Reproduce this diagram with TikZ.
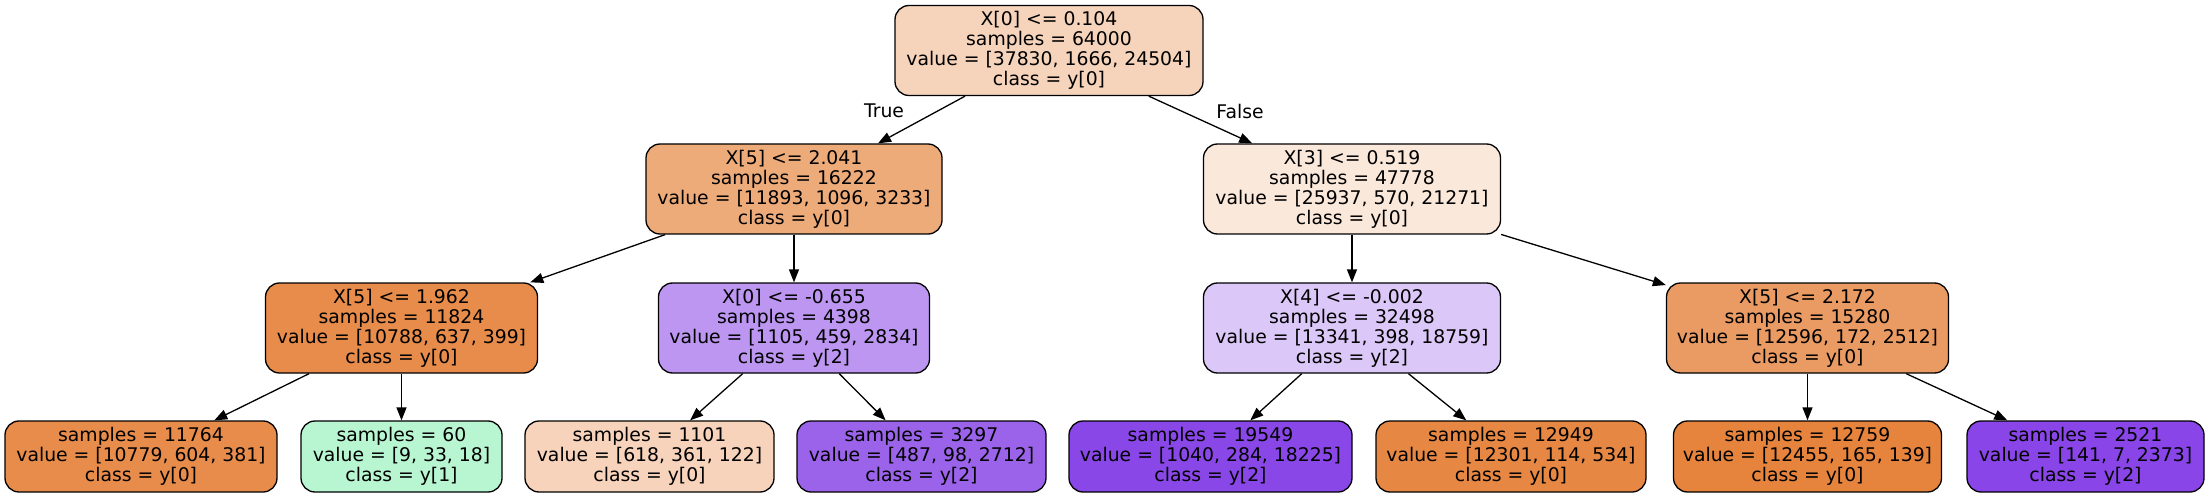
\documentclass[tikz,border=0pt]{standalone}
\usepackage{fontspec}
\setmainfont{DejaVu Sans}
\usetikzlibrary{arrows.meta}
\definecolor{cA}{RGB}{229,129,57}
\definecolor{cB}{RGB}{57,229,129}
\definecolor{cC}{RGB}{129,57,229}
\begin{document}
\begin{tikzpicture}[x=1pt,y=-1pt,
  tnode/.style={draw=black, line width=1.3pt, rounded corners=14pt, align=center,
    font=\fontsize{18.8}{20}\selectfont, inner sep=0pt, minimum height=90pt},
  leafbox/.style={tnode, minimum height=71pt},
  edgearrow/.style={line width=1.3pt, -{Triangle[length=13pt,width=10pt]}},
  lbl/.style={font=\fontsize{18.8}{20}\selectfont, inner sep=0pt}]
\useasboundingbox (0,0) rectangle (2209,497);
% level 0
\node[tnode, fill=cA!34, minimum width=308pt] (root) at (1049,50.5)
  {X[0] <= 0.104\\samples = 64000\\value = [37830, 1666, 24504]\\class = y[0]};
% level 1
\node[tnode, fill=cA!67, minimum width=296pt] (l1a) at (794,189)
  {X[5] <= 2.041\\samples = 16222\\value = [11893, 1096, 3233]\\class = y[0]};
\node[tnode, fill=cA!18, minimum width=297pt] (l1b) at (1352,189)
  {X[3] <= 0.519\\samples = 47778\\value = [25937, 570, 21271]\\class = y[0]};
% level 2
\node[tnode, fill=cA!91, minimum width=272pt] (l2a) at (401.5,328)
  {X[5] <= 1.962\\samples = 11824\\value = [10788, 637, 399]\\class = y[0]};
\node[tnode, fill=cC!53, minimum width=271pt] (l2b) at (794,328)
  {X[0] <= -0.655\\samples = 4398\\value = [1105, 459, 2834]\\class = y[2]};
\node[tnode, fill=cC!28, minimum width=297pt] (l2c) at (1352,328)
  {X[4] <= -0.002\\samples = 32498\\value = [13341, 398, 18759]\\class = y[2]};
\node[tnode, fill=cA!79, minimum width=282pt] (l2d) at (1807.5,328)
  {X[5] <= 2.172\\samples = 15280\\value = [12596, 172, 2512]\\class = y[0]};
% leaves
\node[leafbox, fill=cA!91, minimum width=272pt] (lf1) at (141,456.5)
  {samples = 11764\\value = [10779, 604, 381]\\class = y[0]};
\node[leafbox, fill=cB!36, minimum width=201pt] (lf2) at (401.5,456.5)
  {samples = 60\\value = [9, 33, 18]\\class = y[1]};
\node[leafbox, fill=cA!35, minimum width=249pt] (lf3) at (649.5,456.5)
  {samples = 1101\\value = [618, 361, 122]\\class = y[0]};
\node[leafbox, fill=cC!79, minimum width=249pt] (lf4) at (921.5,456.5)
  {samples = 3297\\value = [487, 98, 2712]\\class = y[2]};
\node[leafbox, fill=cC!93, minimum width=283pt] (lf5) at (1210.5,456.5)
  {samples = 19549\\value = [1040, 284, 18225]\\class = y[2]};
\node[leafbox, fill=cA!95, minimum width=270pt] (lf6) at (1511,456.5)
  {samples = 12949\\value = [12301, 114, 534]\\class = y[0]};
\node[leafbox, fill=cA!98, minimum width=268pt] (lf7) at (1807.5,456.5)
  {samples = 12759\\value = [12455, 165, 139]\\class = y[0]};
\node[leafbox, fill=cC!94, minimum width=237pt] (lf8) at (2085.5,456.5)
  {samples = 2521\\value = [141, 7, 2373]\\class = y[2]};
% edges
\draw[edgearrow] (root) -- (l1a);
\draw[edgearrow] (root) -- (l1b);
\draw[edgearrow] (l1a) -- (l2a);
\draw[edgearrow] (l1a) -- (l2b);
\draw[edgearrow] (l1b) -- (l2c);
\draw[edgearrow] (l1b) -- (l2d);
\draw[edgearrow] (l2a) -- (lf1);
\draw[edgearrow] (l2a) -- (lf2);
\draw[edgearrow] (l2b) -- (lf3);
\draw[edgearrow] (l2b) -- (lf4);
\draw[edgearrow] (l2c) -- (lf5);
\draw[edgearrow] (l2c) -- (lf6);
\draw[edgearrow] (l2d) -- (lf7);
\draw[edgearrow] (l2d) -- (lf8);
% edge labels
\node[lbl] (tl) at (884,111) {True};
\node[lbl] (fl) at (1240,111) {False};
\end{tikzpicture}
\end{document}
